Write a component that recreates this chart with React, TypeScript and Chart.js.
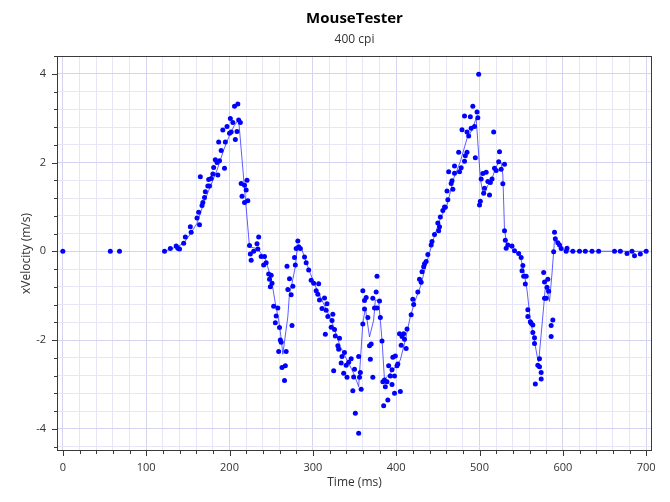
import React, { useEffect, useRef } from 'react';
import { Chart, registerables } from 'chart.js';

Chart.register(...registerables);

const TITLE = 'MouseTester';
const SUBTITLE = '400 cpi';
const X_TITLE = 'Time (ms)';
const Y_TITLE = 'xVelocity (m/s)';

// Raw samples (time in ms, x-velocity in m/s)
const sampleTimeMs = [
  0, 57, 68, 122, 129, 136, 138, 140, 145, 147,
  153, 154, 161, 163, 164, 165, 167, 168, 170, 171,
  174, 175, 176, 178, 180, 181, 183, 185, 186, 187,
  188, 190, 192, 194, 195, 197, 200, 201, 202, 204,
  206, 207, 209, 210, 211, 213, 214, 215, 218, 218,
  220, 221, 222, 224, 225, 226, 229, 233, 234, 235,
  238, 241, 242, 244, 247, 248, 249, 250, 251, 253,
  255, 256, 258, 259, 260, 261, 262, 263, 266, 267,
  268, 269, 270, 272, 274, 275, 276, 278, 279, 280,
  282, 283, 285, 290, 292, 295, 298, 301, 304, 306,
  307, 308, 311, 314, 315, 316, 317, 318, 322, 323,
  324, 325, 326, 327, 330, 331, 332, 334, 335, 337,
  338, 340, 341, 343, 346, 348, 349, 350, 351, 355,
  355, 356, 357, 358, 360, 360, 362, 362, 364, 366,
  368, 369, 370, 372, 372, 374, 376, 377, 377, 380,
  381, 383, 384, 385, 386, 387, 389, 390, 391, 393,
  395, 395, 396, 398, 398, 399, 401, 402, 404, 405,
  406, 407, 409, 410, 412, 413, 418, 420, 421, 426,
  428, 430, 431, 433, 434, 436, 438, 442, 443, 446,
  450, 451, 452, 453, 456, 458, 459, 461, 462, 463,
  466, 467, 468, 470, 470, 475, 476, 478, 479, 482,
  482, 483, 485, 485, 487, 489, 490, 492, 494, 495,
  497, 498, 499, 500, 501, 502, 504, 505, 506, 508,
  510, 512, 513, 515, 517, 518, 520, 523, 524, 526,
  528, 530, 530, 531, 532, 534, 539, 542, 547, 550,
  551, 552, 553, 555, 556, 558, 558, 561, 562, 564,
  564, 566, 566, 567, 570, 572, 572, 574, 574, 577,
  578, 578, 580, 581, 582, 583, 586, 586, 588, 589,
  590, 591, 594, 596, 598, 604, 605, 612, 620, 627,
  635, 643, 662, 669, 677, 683, 686, 693, 700,
];

const sampleXVel = [
  0, 0, 0, 0, 0.06, 0.12, 0.07, 0.05, 0.18, 0.32,
  0.55, 0.43, 0.75, 0.88, 0.6, 1.68, 1.03, 1.1, 1.21, 1.34,
  1.47, 1.62, 1.47, 1.64, 1.74, 1.89, 2.06, 2.0, 1.72, 2.46,
  2.04, 2.27, 2.73, 1.87, 2.46, 2.81, 2.66, 2.99, 2.69, 2.9,
  3.27, 2.52, 2.7, 3.32, 2.96, 2.9, 1.53, 1.24, 1.49, 1.1,
  1.38, 1.6, 1.14, 0.13, -0.06, -0.2, 0, 0.17, 0.05, 0.32,
  -0.12, -0.31, -0.12, -0.26, -0.51, -0.63, -0.8, -0.54, -0.72, -1.24,
  -1.61, -1.46, -1.28, -2.26, -1.72, -2.0, -2.05, -2.62, -2.91, -2.58,
  -2.26, -0.34, -0.86, -0.62, -0.98, -1.67, -0.79, -0.14, -0.31, 0.06,
  0.23, 0.1, 0.06, -0.13, -0.26, -0.42, -0.65, -0.72, -0.89, -0.97,
  -0.73, -1.1, -1.29, -1.05, -1.87, -1.33, -1.18, -1.47, -1.71, -1.56,
  -1.42, -2.69, -1.76, -1.91, -2.13, -2.21, -1.96, -2.52, -2.37, -2.75,
  -2.28, -2.57, -2.84, -2.5, -2.42, -3.14, -2.83, -2.66, -3.65, -2.37,
  -4.1, -2.84, -2.73, -3.11, -1.64, -0.89, -1.11, -1.3, -1.04, -1.49,
  -2.13, -2.43, -2.09, -2.84, -1.06, -1.28, -0.92, -0.56, -1.28, -1.12,
  -1.49, -2.02, -2.94, -3.48, -2.9, -3.05, -2.94, -3.35, -2.58, -2.81,
  -2.67, -3.0, -2.39, -2.81, -3.2, -2.36, -2.58, -2.54, -1.86, -3.16,
  -2.12, -1.92, -1.86, -1.98, -2.19, -1.75, -1.43, -1.08, -1.2, -0.92,
  -0.63, -0.7, -0.46, -0.35, -0.28, -0.23, -0.07, 0.14, 0.22, 0.38,
  0.64, 0.46, 0.55, 0.77, 0.92, 1.0, 0.99, 1.36, 1.16, 1.79,
  1.53, 1.59, 1.4, 1.76, 1.92, 2.23, 1.79, 1.88, 2.74, 2.03,
  3.05, 2.15, 2.23, 2.69, 2.6, 3.03, 2.77, 3.27, 2.81, 2.11,
  3.14, 3.01, 3.99, 1.04, 1.13, 1.63, 1.75, 1.31, 1.42, 1.78,
  1.57, 1.27, 1.55, 1.63, 2.69, 1.87, 1.82, 2.02, 2.24, 1.85,
  1.52, 1.96, 0.46, 0.25, 0.07, 0.14, 0.12, 0.01, -0.05, -0.14,
  -0.44, -0.32, -0.56, -0.74, -0.56, -1.32, -1.47, -1.59, -1.62, -1.66,
  -1.83, -1.95, -2.08, -2.99, -2.57, -2.6, -2.42, -2.73, -2.88, -0.48,
  -0.69, -1.06, -1.06, -0.81, -0.63, -0.9, -1.67, -1.92, -1.55, -0.01,
  0.43, 0.28, 0.19, 0.14, 0.06, 0, 0.07, 0, 0, 0,
  0, 0, 0, 0, -0.05, 0, -0.1, -0.06, 0,
];

// Smoothed trace (vertices)
const smoothTimeMs = [
  122, 129, 137, 145, 153, 161, 169, 177, 185, 193,
  201, 206, 211, 224, 231, 236, 243, 247, 251, 255,
  259, 262, 264, 270, 272, 275, 279, 281, 283, 286,
  290, 297, 305, 317, 325, 333, 341, 349, 355, 360,
  363, 368, 373, 375, 379, 383, 386, 389, 395, 399,
  405, 411, 417, 423, 429, 437, 445, 453, 461, 469,
  477, 485, 491, 496, 501, 504, 507, 510, 514, 519,
  523, 526, 528, 530, 533, 541, 549, 553, 557, 561,
  565, 570, 571, 577, 579, 583, 584, 587, 590, 593,
  599, 609, 700,
];

const smoothXVel = [
  0, 0.05, 0.1, 0.18, 0.39, 0.63, 1.08, 1.46, 1.83, 2.28,
  2.66, 2.84, 2.96, 0.1, 0.07, 0, -0.18, -0.42, -0.72, -1.17,
  -1.55, -1.96, -2.32, -1.47, -0.95, -0.72, -0.35, 0.03, 0.14, 0.09,
  -0.14, -0.5, -0.87, -1.34, -1.7, -2.15, -2.45, -2.75, -3.05, -1.62,
  -1.28, -1.93, -1.55, -1.1, -1.11, -2.0, -2.9, -2.82, -2.71, -2.6,
  -2.45, -2.0, -1.47, -1.1, -0.8, -0.23, 0.29, 0.74, 1.04, 1.64,
  2.02, 2.54, 2.73, 3.0, 1.64, 1.31, 1.34, 1.49, 1.57, 1.87,
  2.0, 2.0, 1.72, 0.48, 0.14, 0.03, -0.12, -0.42, -0.87, -1.55,
  -1.92, -2.45, -2.49, -1.25, -0.8, -1.02, -1.13, -0.5, 0.25, 0.18,
  0.04, 0, 0,
];

// Axis ranges and tick positions
const X_MIN = -7;
const X_MAX = 707;
const Y_MIN = -4.5;
const Y_MAX = 4.4;
const xTickValues = [
  0, 20, 40, 60, 80, 100, 120, 140, 160, 180, 200, 220, 240, 260, 280, 300,
  320, 340, 360, 380, 400, 420, 440, 460, 480, 500, 520, 540, 560, 580, 600,
  620, 640, 660, 680, 700,
];
const xLabelValues = [0, 100, 200, 300, 400, 500, 600, 700];
const yTickValues = [
  -4.4, -4.0, -3.6, -3.2, -2.8, -2.4, -2.0, -1.6, -1.2, -0.8, -0.4, 0,
  0.4, 0.8, 1.2, 1.6, 2.0, 2.4, 2.8, 3.2, 3.6, 4.0, 4.4,
];
const yLabelValues = [-4, -2, 0, 2, 4];

const FONT = '"Open Sans", "Noto Sans", sans-serif';
const GRID_MINOR = 'rgb(230, 230, 246)';
const GRID_MAJOR = 'rgb(212, 212, 240)';
const FRAME = '#3a3a3a';

const isIn = (list: number[], v: number) => list.some((u) => Math.abs(u - v) < 1e-6);

const framePlugin = {
  id: 'framePlugin',
  afterDraw(chart: any) {
    const { ctx, chartArea: a, scales } = chart;
    const x = scales.x;
    const y = scales.y;
    ctx.save();
    ctx.strokeStyle = FRAME;
    ctx.lineWidth = 1;
    ctx.beginPath();
    for (const v of xTickValues) {
      const px = Math.round(x.getPixelForValue(v)) + 0.5;
      const len = isIn(xLabelValues, v) ? 5 : 3;
      ctx.moveTo(px, a.bottom);
      ctx.lineTo(px, a.bottom + len);
    }
    for (const v of yTickValues) {
      const py = Math.round(y.getPixelForValue(v)) + 0.5;
      const len = isIn(yLabelValues, v) ? 5 : 3;
      ctx.moveTo(a.left - len, py);
      ctx.lineTo(a.left, py);
    }
    ctx.stroke();
    ctx.strokeRect(
      Math.round(a.left) + 0.5,
      Math.round(a.top) + 0.5,
      Math.round(a.right - a.left) - 1,
      Math.round(a.bottom - a.top) - 1
    );
    const cx = (a.left + a.right) / 2;
    ctx.textAlign = 'center';
    ctx.textBaseline = 'middle';
    ctx.fillStyle = '#000';
    ctx.font = `bold 15px ${FONT}`;
    ctx.fillText(TITLE, cx, 19);
    ctx.fillStyle = '#333';
    ctx.font = `12px ${FONT}`;
    ctx.fillText(SUBTITLE, cx, 40);
    ctx.restore();
  },
};

export default function App() {
  const canvasRef = useRef<HTMLCanvasElement | null>(null);

  useEffect(() => {
    if (!canvasRef.current) return;
    const points = sampleTimeMs.map((t, i) => ({ x: t, y: sampleXVel[i] }));
    const trace = smoothTimeMs.map((t, i) => ({ x: t, y: smoothXVel[i] }));

    const chart = new Chart(canvasRef.current, {
      type: 'scatter',
      data: {
        datasets: [
          {
            label: 'samples',
            data: points,
            showLine: false,
            pointRadius: 2.5,
            pointBackgroundColor: '#0000ff',
            pointBorderWidth: 0,
            pointBorderColor: '#0000ff',
          },
          {
            label: 'smoothed',
            data: trace,
            showLine: true,
            borderColor: 'rgba(40, 40, 255, 0.75)',
            borderWidth: 1,
            pointRadius: 0,
            tension: 0,
            fill: false,
          },
        ],
      },
      options: {
        animation: false,
        responsive: false,
        events: [],
        layout: { padding: { top: 56, right: 18, bottom: 0, left: 0 } },
        plugins: {
          legend: { display: false },
          tooltip: { enabled: false },
          title: { display: false },
        },
        scales: {
          x: {
            type: 'linear',
            min: X_MIN,
            max: X_MAX,
            afterBuildTicks: (scale: any) => {
              scale.ticks = xTickValues.map((v) => ({ value: v }));
            },
            afterFit: (scale: any) => {
              scale.height = 51;
            },
            ticks: {
              autoSkip: false,
              maxRotation: 0,
              padding: 10,
              color: '#333',
              font: { family: FONT, size: 11 },
              callback: (v: any) => (isIn(xLabelValues, Number(v)) ? String(v) : ''),
            },
            grid: {
              drawTicks: false,
              color: (c: any) =>
                c.tick && isIn(xLabelValues, c.tick.value) ? GRID_MAJOR : GRID_MINOR,
            },
            border: { display: false },
            title: {
              display: true,
              text: X_TITLE,
              color: '#333',
              font: { family: FONT, size: 12 },
              padding: { top: 0, bottom: 12 },
            },
          },
          y: {
            type: 'linear',
            min: Y_MIN,
            max: Y_MAX,
            afterBuildTicks: (scale: any) => {
              scale.ticks = yTickValues.map((v) => ({ value: v }));
            },
            afterFit: (scale: any) => {
              scale.width = 57;
            },
            ticks: {
              autoSkip: false,
              padding: 11,
              color: '#333',
              font: { family: FONT, size: 11 },
              callback: (v: any) => {
                const n = Number(v);
                return isIn(yLabelValues, n) ? String(Math.round(n)) : '';
              },
            },
            grid: {
              drawTicks: false,
              color: (c: any) =>
                c.tick && isIn(yLabelValues, c.tick.value) ? GRID_MAJOR : GRID_MINOR,
            },
            border: { display: false },
            title: {
              display: true,
              text: Y_TITLE,
              color: '#333',
              font: { family: FONT, size: 12 },
              padding: { top: 19, bottom: 0 },
            },
          },
        },
      },
      plugins: [framePlugin],
    });

    return () => chart.destroy();
  }, []);

  return (
    <div style={{ position: 'fixed', left: 0, top: 0, width: 670, height: 502, background: '#fff' }}>
      <canvas ref={canvasRef} width={670} height={502} style={{ display: 'block' }} />
    </div>
  );
}
